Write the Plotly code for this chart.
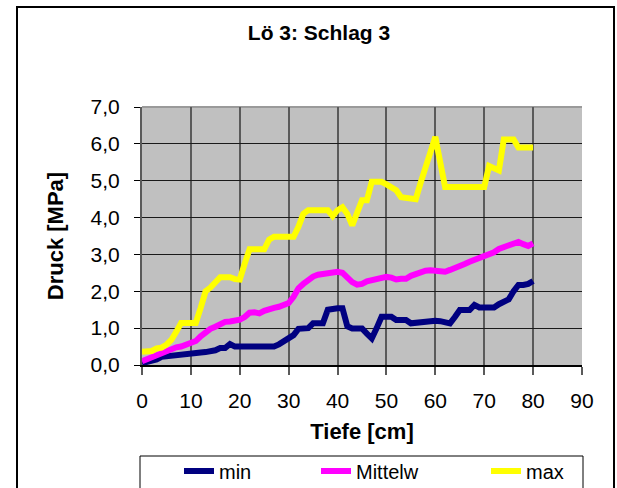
import plotly.graph_objects as go

# ---- data ----
tiefe = [0, 1, 2, 3, 4, 5, 6, 7, 8, 9, 10, 11, 12, 13, 14, 15, 16, 17, 18, 19,
         20, 21, 22, 23, 24, 25, 26, 27, 28, 29, 30, 31, 32, 33, 34, 35, 36, 37, 38, 39,
         40, 41, 42, 43, 44, 45, 46, 47, 48, 49, 50, 51, 52, 53, 54, 55, 56, 57, 58, 59,
         60, 61, 62, 63, 64, 65, 66, 67, 68, 69, 70, 71, 72, 73, 74, 75, 76, 77, 78, 79, 80]

druck_min = [0.05, 0.07, 0.09, 0.15, 0.22, 0.24, 0.25, 0.26, 0.27, 0.32,
             0.32, 0.32, 0.34, 0.35, 0.36, 0.40, 0.46, 0.46, 0.57, 0.50,
             0.50, 0.50, 0.50, 0.50, 0.50, 0.50, 0.50, 0.50, 0.56, 0.63,
             0.72, 0.81, 0.98, 0.98, 1.00, 1.13, 1.13, 1.13, 1.50, 1.54,
             1.54, 1.54, 1.05, 0.99, 0.99, 0.99, 0.85, 0.72, 1.00, 1.31,
             1.31, 1.31, 1.22, 1.22, 1.22, 1.13, 1.15, 1.17, 1.17, 1.22,
             1.20, 1.19, 1.17, 1.13, 1.30, 1.49, 1.49, 1.49, 1.63, 1.56,
             1.56, 1.56, 1.56, 1.65, 1.72, 1.78, 2.00, 2.17, 2.17, 2.20, 2.28]

druck_mittelw = [0.10, 0.16, 0.22, 0.28, 0.34, 0.40, 0.44, 0.48, 0.50, 0.55,
                 0.60, 0.65, 0.78, 0.90, 0.98, 1.04, 1.10, 1.17, 1.18, 1.20,
                 1.23, 1.30, 1.42, 1.43, 1.40, 1.47, 1.53, 1.55, 1.58, 1.62,
                 1.68, 1.85, 2.08, 2.20, 2.32, 2.40, 2.45, 2.47, 2.50, 2.53,
                 2.53, 2.50, 2.35, 2.25, 2.18, 2.20, 2.27, 2.30, 2.32, 2.36,
                 2.39, 2.37, 2.32, 2.34, 2.34, 2.42, 2.48, 2.52, 2.56, 2.57,
                 2.57, 2.56, 2.53, 2.58, 2.62, 2.68, 2.74, 2.80, 2.85, 2.89,
                 2.95, 3.03, 3.06, 3.15, 3.20, 3.22, 3.30, 3.34, 3.28, 3.23, 3.30]

druck_max = [0.36, 0.36, 0.38, 0.45, 0.47, 0.55, 0.68, 0.90, 1.14, 1.14,
             1.14, 1.14, 1.55, 2.00, 2.10, 2.25, 2.38, 2.38, 2.38, 2.33,
             2.32, 2.75, 3.14, 3.14, 3.14, 3.14, 3.40, 3.48, 3.48, 3.48,
             3.48, 3.48, 3.75, 4.10, 4.20, 4.20, 4.20, 4.20, 4.20, 4.04,
             4.20, 4.28, 4.10, 3.79, 4.10, 4.47, 4.47, 4.97, 4.97, 4.97,
             4.90, 4.80, 4.74, 4.55, 4.52, 4.50, 4.50, 4.95, 5.35, 5.75,
             6.19, 5.50, 4.83, 4.83, 4.83, 4.83, 4.83, 4.83, 4.83, 4.83,
             4.83, 5.40, 5.35, 5.28, 6.12, 6.12, 6.12, 5.90, 5.90, 5.90, 5.90]

series_names = ["min", "Mittelw", "max"]
x_ticks = [0, 10, 20, 30, 40, 50, 60, 70, 80, 90]
y_ticks = [0, 1, 2, 3, 4, 5, 6, 7]

FONT = "Liberation Sans, Arial, sans-serif"
W, H = 617, 488

fig = go.Figure()
fig.add_trace(go.Scatter(x=tiefe, y=druck_min, mode="lines", name=series_names[0],
                         line=dict(color="#000080", width=6), legend="legend"))
fig.add_trace(go.Scatter(x=tiefe, y=druck_mittelw, mode="lines", name=series_names[1],
                         line=dict(color="#FF00FF", width=6), legend="legend2"))
fig.add_trace(go.Scatter(x=tiefe, y=druck_max, mode="lines", name=series_names[2],
                         line=dict(color="#FFFF00", width=6), legend="legend3"))

leg_common = dict(orientation="h", yanchor="middle", y=-0.411, xanchor="left",
                  bgcolor="rgba(0,0,0,0)", borderwidth=0, visible=True,
                  font=dict(family=FONT, size=20, color="black"))

fig.update_layout(
    width=W, height=H,
    showlegend=True,
    margin=dict(l=142, r=W - 582, t=107, b=H - 365, autoexpand=False),
    paper_bgcolor="white",
    plot_bgcolor="#C0C0C0",
    separators=",.",
    font=dict(family=FONT, size=21, color="black"),
    title=dict(text="<b>Lö 3: Schlag 3</b>", x=319 / W, xref="container", xanchor="center",
               y=1 - 33 / H, yref="container", yanchor="middle",
               font=dict(family=FONT, size=21, color="black")),
    xaxis=dict(range=[0, 90], tickvals=x_ticks, ticktext=[str(v) for v in x_ticks],
               showgrid=True, gridcolor="#5A5A5A", gridwidth=2,
               showline=True, linecolor="black", linewidth=2,
               ticks="outside", ticklen=8, tickwidth=2, tickcolor="#5A5A5A",
               zeroline=False, tickfont=dict(size=21), ticklabelstandoff=8,
               title=dict(text="<b>Tiefe [cm]</b>", font=dict(size=22), standoff=12)),
    yaxis=dict(range=[0, 7], tickvals=y_ticks, tickformat=".1f",
               showgrid=True, gridcolor="#1A1A1A", gridwidth=1,
               showline=True, linecolor="#5A5A5A", linewidth=2,
               ticks="outside", ticklen=6, tickwidth=1, tickcolor="black",
               zeroline=False, tickfont=dict(size=21), ticklabelstandoff=10,
               title=dict(text="<b>Druck [MPa]</b>", font=dict(size=22), standoff=21)),
    legend=dict(x=(179 - 142) / 440, **leg_common),
    legend2=dict(x=(316 - 142) / 440, **leg_common),
    legend3=dict(x=(486 - 142) / 440, **leg_common),
    shapes=[
        # outer chart frame
        dict(type="rect", xref="paper", yref="paper",
             x0=(17 - 142) / 440, x1=(614 - 142) / 440,
             y0=(365 - 520) / 258, y1=(365 - 7) / 258,
             line=dict(color="black", width=2), fillcolor="rgba(0,0,0,0)", layer="below"),
        # plot area top border
        dict(type="line", xref="paper", yref="paper", x0=0, x1=1, y0=1, y1=1,
             line=dict(color="#9A9A9A", width=2), layer="below"),
        # legend box
        dict(type="rect", xref="paper", yref="paper",
             x0=(140 - 142) / 440, x1=(583 - 142) / 440,
             y0=(365 - 520) / 258, y1=(365 - 456) / 258,
             line=dict(color="black", width=1), fillcolor="rgba(0,0,0,0)", layer="below"),
    ],
)

fig.write_html(
    "out.html",
    config={"displayModeBar": False},
    post_script="document.body.style.margin='0px'; document.body.style.overflow='hidden';",
)
